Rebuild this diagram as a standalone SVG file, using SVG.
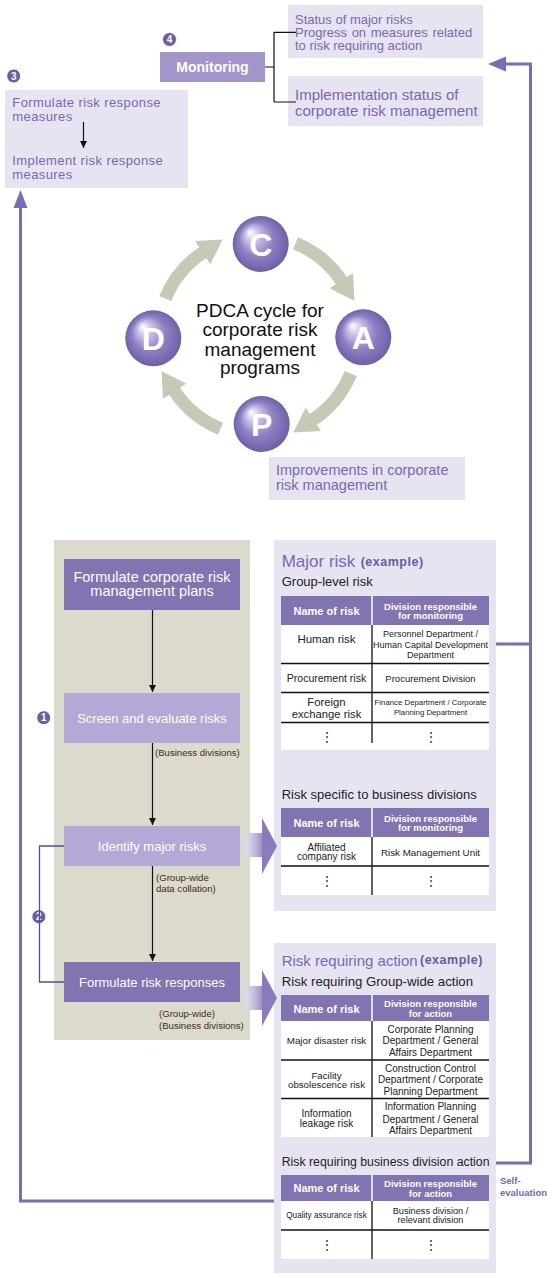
<svg xmlns="http://www.w3.org/2000/svg" width="552" height="1278" viewBox="0 0 552 1278">
<style>
.t{font-family:"Liberation Sans",Arial,sans-serif;dominant-baseline:central}
.m{text-anchor:middle}
.pu{fill:#7a68b0}
.wh{fill:#fff}
.dk{fill:#222}
.b{font-weight:bold}
.box{fill:#e7e4f1}
.dpu{fill:#8273b3}
.lpu{fill:#b6a8d6}
.hdr{fill:#8273b3}
.blk{stroke:#111;stroke-width:1.2;fill:none}
.rl{stroke:#111;stroke-width:1.3}
.fb{stroke:#7b6bb8;stroke-width:3;fill:none}
.pd{stroke:#c8c9b5;stroke-width:13;fill:none}
.num circle{fill:#6d5ca8;stroke:#fff;stroke-width:1}
.num text{font-family:"Liberation Sans",Arial,sans-serif;font-weight:bold;font-size:10px;fill:#fff;text-anchor:middle;dominant-baseline:central}
</style>
<defs>
<radialGradient id="ball" cx="0.5" cy="0.5" r="0.5" fx="0.3" fy="0.28">
<stop offset="0" stop-color="#ffffff"/>
<stop offset="0.25" stop-color="#cbc2e7"/>
<stop offset="0.6" stop-color="#8f80c4"/>
<stop offset="1" stop-color="#6f5fa9"/>
</radialGradient>
<linearGradient id="ptr" x1="0" y1="0" x2="1" y2="0">
<stop offset="0" stop-color="#e2deec"/>
<stop offset="0.5" stop-color="#c7bfdf"/>
<stop offset="1" stop-color="#9d90c9"/>
</linearGradient>
<marker id="pdh" markerUnits="userSpaceOnUse" markerWidth="24" markerHeight="28" viewBox="0 0 24 28" refX="1" refY="14" orient="auto">
<path d="M0,0 L24,14 L0,28 Z" fill="#c8c9b5"/>
</marker>
<marker id="ah" markerUnits="userSpaceOnUse" markerWidth="7" markerHeight="7" viewBox="0 0 7 7" refX="7" refY="3.5" orient="auto">
<path d="M0,0 L7,3.5 L0,7 Z" fill="#111"/>
</marker>
</defs>
<rect width="552" height="1278" fill="#fff"/>

<!-- Top: Monitoring -->
<g id="num4" class="num"><circle cx="169.5" cy="39.5" r="7"/><text x="169.5" y="39.5">4</text></g>
<g id="monitoring"><rect x="160" y="52" width="105" height="30" fill="#a394c9"/><text class="t wh b m" x="212.5" y="67" font-size="14">Monitoring</text></g>
<g id="status-box"><rect class="box" x="288" y="5" width="195" height="53"/>
<text class="t pu" x="295" y="19.3" font-size="13">Status of major risks</text>
<text class="t pu" x="295" y="32.3" font-size="13" word-spacing="1">Progress on measures related</text>
<text class="t pu" x="295" y="45" font-size="13">to risk requiring action</text></g>
<g id="impl-box"><rect class="box" x="288" y="76" width="195" height="50"/>
<text class="t pu" x="295" y="94" font-size="15">Implementation status of</text>
<text class="t pu" x="295" y="110" font-size="15">corporate risk management</text></g>

<g id="num3" class="num"><circle cx="13.7" cy="76" r="7"/><text x="13.7" y="76">3</text></g>
<g id="measures-box"><rect class="box" x="5" y="90" width="183" height="98"/>
<text class="t pu" x="12.3" y="102.8" font-size="13" letter-spacing="0.4">Formulate risk response</text>
<text class="t pu" x="12.3" y="116.6" font-size="13" letter-spacing="0.4">measures</text>
<text class="t pu" x="12.3" y="160.5" font-size="13" letter-spacing="0.4">Implement risk response</text>
<text class="t pu" x="12.3" y="174.3" font-size="13" letter-spacing="0.4">measures</text></g>

<!-- PDCA -->
<g id="pdca-arrows">
<path class="pd" d="M165.3,298.5 A100,100 0 0 1 203.5,252.1" marker-end="url(#pdh)"/>
<path class="pd" d="M295.5,243.3 A100,100 0 0 1 341.9,281.5" marker-end="url(#pdh)"/>
<path class="pd" d="M350.7,373.5 A100,100 0 0 1 312.5,419.9" marker-end="url(#pdh)"/>
<path class="pd" d="M220.5,428.7 A100,100 0 0 1 174.1,390.5" marker-end="url(#pdh)"/>
</g>
<g id="pdca-C"><circle cx="260.7" cy="244" r="28" fill="url(#ball)"/><text class="t wh b m" x="260.7" y="245" font-size="32">C</text></g>
<g id="pdca-A"><circle cx="363.3" cy="337.3" r="28" fill="url(#ball)"/><text class="t wh b m" x="363.3" y="338.3" font-size="32">A</text></g>
<g id="pdca-P"><circle cx="261.7" cy="424" r="28" fill="url(#ball)"/><text class="t wh b m" x="261.7" y="425" font-size="32">P</text></g>
<g id="pdca-D"><circle cx="153.3" cy="338.3" r="28" fill="url(#ball)"/><text class="t wh b m" x="153.3" y="339.3" font-size="32">D</text></g>
<g id="pdca-title">
<text class="t m" x="260" y="310" font-size="19" fill="#111">PDCA cycle for</text>
<text class="t m" x="260" y="329.3" font-size="19" fill="#111">corporate risk</text>
<text class="t m" x="260" y="349" font-size="19" fill="#111">management</text>
<text class="t m" x="260" y="367.7" font-size="19" fill="#111">programs</text>
</g>
<g id="improve-box"><rect class="box" x="269" y="457" width="196" height="43"/>
<text class="t pu" x="276" y="470" font-size="14.5">Improvements in corporate</text>
<text class="t pu" x="276" y="485" font-size="14.5">risk management</text></g>

<!-- Left process panel -->
<rect id="process-panel" x="54" y="540" width="196" height="500" fill="#dcdacd"/>
<g id="plan-box"><rect class="dpu" x="64" y="559" width="176" height="51"/>
<text class="t wh m" x="152" y="577.3" font-size="14.5">Formulate corporate risk</text>
<text class="t wh m" x="152" y="591.3" font-size="14.5">management plans</text></g>
<g id="screen-box"><rect class="lpu" x="64" y="693" width="176" height="50"/>
<text class="t wh m" x="152" y="718.5" font-size="13">Screen and evaluate risks</text></g>
<g id="identify-box"><rect class="lpu" x="64" y="826" width="176" height="40"/>
<text class="t wh m" x="152" y="846.5" font-size="13">Identify major risks</text></g>
<g id="responses-box"><rect class="dpu" x="64" y="962" width="176" height="40"/>
<text class="t wh m" x="152" y="982.3" font-size="13">Formulate risk responses</text></g>
<g id="process-notes">
<text class="t" x="155" y="752.7" font-size="9.6" fill="#3d2b20">(Business divisions)</text>
<text class="t" x="156" y="877.7" font-size="9.6" fill="#3d2b20">(Group-wide</text>
<text class="t" x="156" y="888.3" font-size="9.6" fill="#3d2b20">data collation)</text>
<text class="t" x="159" y="1013.3" font-size="9.6" fill="#3d2b20">(Group-wide)</text>
<text class="t" x="159" y="1025" font-size="9.6" fill="#3d2b20">(Business divisions)</text>
</g>
<g id="num1" class="num"><circle cx="43.7" cy="717.7" r="7"/><text x="43.7" y="717.7">1</text></g>
<g id="num2" class="num"><circle cx="38.8" cy="916.7" r="7"/><text x="38.8" y="916.7">2</text></g>

<!-- Major risk panel -->
<g id="major-risk-panel">
<rect class="box" x="274" y="540" width="222" height="371"/>
<text class="t pu" x="281.7" y="561.7" font-size="17">Major risk</text>
<text class="t b" x="360.7" y="561.7" font-size="12.5" fill="#6a5aa3" letter-spacing="0.5">(example)</text>
<text class="t dk" x="281.7" y="581.7" font-size="13">Group-level risk</text>
<rect class="hdr" x="281" y="596" width="208" height="29"/>
<line x1="372" y1="596" x2="372" y2="625" stroke="#fff" stroke-width="1.5"/>
<text class="t wh b m" x="326.5" y="610.5" font-size="11">Name of risk</text>
<text class="t wh b m" x="430.5" y="606" font-size="9.5">Division responsible</text>
<text class="t wh b m" x="430.5" y="615.5" font-size="9.5">for monitoring</text>
<rect x="281" y="625" width="208" height="125" fill="#fff"/>
<line class="rl" x1="281" y1="663.5" x2="489" y2="663.5"/>
<line class="rl" x1="281" y1="692.5" x2="489" y2="692.5"/>
<line class="rl" x1="281" y1="722.5" x2="489" y2="722.5"/>
<line class="rl" x1="372" y1="625" x2="372" y2="743"/>
<text class="t dk m" x="326.5" y="639.3" font-size="11.5">Human risk</text>
<text class="t dk m" x="430.5" y="634.3" font-size="9">Personnel Department /</text>
<text class="t dk m" x="430.5" y="645" font-size="9">Human Capital Development</text>
<text class="t dk m" x="430.5" y="655" font-size="9">Department</text>
<text class="t dk m" x="326.5" y="678.3" font-size="10.5">Procurement risk</text>
<text class="t dk m" x="430.5" y="678.3" font-size="9.5">Procurement Division</text>
<text class="t dk m" x="326.5" y="701.7" font-size="11.3">Foreign</text>
<text class="t dk m" x="326.5" y="714" font-size="11.3">exchange risk</text>
<text class="t dk m" x="430.5" y="702.3" font-size="7.8">Finance Department / Corporate</text>
<text class="t dk m" x="430.5" y="712" font-size="7.8">Planning Department</text>
<text class="t dk m" x="326.5" y="736.7" font-size="12">⋮</text>
<text class="t dk m" x="430.5" y="736.7" font-size="12">⋮</text>
<text class="t dk" x="281.7" y="794" font-size="13">Risk specific to business divisions</text>
<rect class="hdr" x="281" y="808" width="208" height="29"/>
<line x1="372" y1="808" x2="372" y2="837" stroke="#fff" stroke-width="1.5"/>
<text class="t wh b m" x="326.5" y="822.7" font-size="11">Name of risk</text>
<text class="t wh b m" x="430.5" y="818.3" font-size="9.5">Division responsible</text>
<text class="t wh b m" x="430.5" y="827.3" font-size="9.5">for monitoring</text>
<rect x="281" y="837" width="208" height="58" fill="#fff"/>
<line class="rl" x1="281" y1="866" x2="489" y2="866"/>
<line class="rl" x1="372" y1="837" x2="372" y2="895"/>
<text class="t dk m" x="326.5" y="847.3" font-size="10">Affiliated</text>
<text class="t dk m" x="326.5" y="856.7" font-size="10">company risk</text>
<text class="t dk m" x="430.5" y="852.3" font-size="9.8">Risk Management Unit</text>
<text class="t dk m" x="326.5" y="881" font-size="12">⋮</text>
<text class="t dk m" x="430.5" y="881" font-size="12">⋮</text>
</g>

<!-- Risk requiring action panel -->
<g id="action-panel">
<rect class="box" x="274" y="943" width="222" height="330"/>
<text class="t pu" x="281.7" y="960" font-size="15">Risk requiring action</text>
<text class="t b" x="420" y="960" font-size="12.5" fill="#6a5aa3" letter-spacing="0.5">(example)</text>
<text class="t dk" x="281.7" y="981" font-size="13.2">Risk requiring Group-wide action</text>
<rect class="hdr" x="281" y="995" width="208" height="26"/>
<line x1="372" y1="995" x2="372" y2="1021" stroke="#fff" stroke-width="1.5"/>
<text class="t wh b m" x="326.5" y="1008.7" font-size="11">Name of risk</text>
<text class="t wh b m" x="430.5" y="1003.3" font-size="9.5">Division responsible</text>
<text class="t wh b m" x="430.5" y="1013" font-size="9.5">for action</text>
<rect x="281" y="1021" width="208" height="116" fill="#fff"/>
<line class="rl" x1="281" y1="1060" x2="489" y2="1060"/>
<line class="rl" x1="281" y1="1098.5" x2="489" y2="1098.5"/>
<line class="rl" x1="372" y1="1021" x2="372" y2="1137"/>
<text class="t dk m" x="326.5" y="1040" font-size="9.8">Major disaster risk</text>
<text class="t dk m" x="430.5" y="1029.3" font-size="10">Corporate Planning</text>
<text class="t dk m" x="430.5" y="1040.7" font-size="10">Department / General</text>
<text class="t dk m" x="430.5" y="1052.3" font-size="10">Affairs Department</text>
<text class="t dk m" x="326.5" y="1075.3" font-size="9.7">Facility</text>
<text class="t dk m" x="326.5" y="1084.3" font-size="9.7">obsolescence risk</text>
<text class="t dk m" x="430.5" y="1068.3" font-size="10">Construction Control</text>
<text class="t dk m" x="430.5" y="1079" font-size="10">Department / Corporate</text>
<text class="t dk m" x="430.5" y="1091.3" font-size="10">Planning Department</text>
<text class="t dk m" x="326.5" y="1113.3" font-size="10">Information</text>
<text class="t dk m" x="326.5" y="1123.3" font-size="10">leakage risk</text>
<text class="t dk m" x="430.5" y="1106.7" font-size="10">Information Planning</text>
<text class="t dk m" x="430.5" y="1119" font-size="10">Department / General</text>
<text class="t dk m" x="430.5" y="1130.3" font-size="10">Affairs Department</text>
<text class="t dk" x="281.7" y="1161.7" font-size="12.3">Risk requiring business division action</text>
<rect class="hdr" x="281" y="1175" width="208" height="26"/>
<line x1="372" y1="1175" x2="372" y2="1201" stroke="#fff" stroke-width="1.5"/>
<text class="t wh b m" x="326.5" y="1187.7" font-size="11">Name of risk</text>
<text class="t wh b m" x="430.5" y="1183.3" font-size="9.5">Division responsible</text>
<text class="t wh b m" x="430.5" y="1193.3" font-size="9.5">for action</text>
<rect x="281" y="1201" width="208" height="58" fill="#fff"/>
<line class="rl" x1="281" y1="1230" x2="489" y2="1230"/>
<line class="rl" x1="372" y1="1201" x2="372" y2="1259"/>
<text class="t dk m" x="326.5" y="1215" font-size="8.2">Quality assurance risk</text>
<text class="t dk m" x="430.5" y="1210.7" font-size="9.2">Business division /</text>
<text class="t dk m" x="430.5" y="1220" font-size="9.2">relevant division</text>
<text class="t dk m" x="326.5" y="1245" font-size="12">⋮</text>
<text class="t dk m" x="430.5" y="1245" font-size="12">⋮</text>
</g>

<g id="self-eval-label">
<text class="t pu b" x="500" y="1180.7" font-size="9.5">Self-</text>
<text class="t pu b" x="500" y="1192.3" font-size="9.5">evaluation</text>
</g>

<!-- Connectors -->
<g id="connectors">
<path class="blk" d="M265,67 H274 M274,32 V102 M274,32.3 H296 M274,102 H296"/>
<line class="blk" x1="83.5" y1="122" x2="83.5" y2="148" marker-end="url(#ah)"/>
<line class="blk" x1="152.5" y1="610" x2="152.5" y2="692" marker-end="url(#ah)"/>
<line class="blk" x1="152.5" y1="743" x2="152.5" y2="825" marker-end="url(#ah)"/>
<line class="blk" x1="152.5" y1="866" x2="152.5" y2="961" marker-end="url(#ah)"/>
<path d="M64,846 H39.5 V982 H64" fill="none" stroke="#5b4a9c" stroke-width="1.3"/>
<rect x="245" y="833" width="17" height="24" fill="url(#ptr)"/>
<polygon points="262,818 277,846 262,874" fill="#8a7bbd"/>
<rect x="245" y="986" width="17" height="24" fill="url(#ptr)"/>
<polygon points="262,970 277,998 262,1026" fill="#8a7bbd"/>
<path class="fb" d="M496,644 H530.5"/>
<path class="fb" d="M496,1163 H530.5 V64 H505"/>
<polygon points="488,64 506,56.5 506,71.5" fill="#7b6bb8"/>
<path class="fb" d="M274,1201 H20.5 V206"/>
<polygon points="20.5,190 13.5,208 27.5,208" fill="#7b6bb8"/>
</g>
</svg>
